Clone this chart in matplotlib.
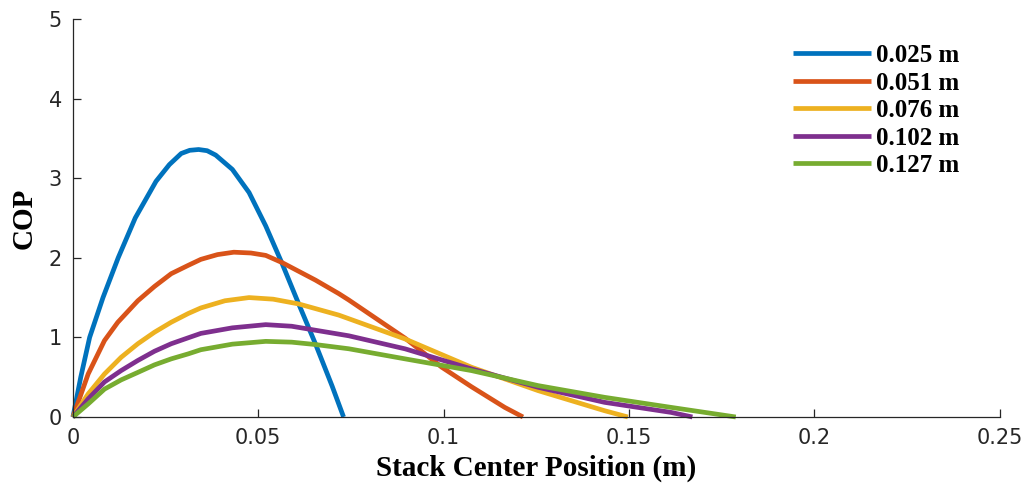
"""
COP versus stack center position for several stack lengths
"""

import matplotlib
matplotlib.use('Agg')
import matplotlib.pyplot as plt

# Stack lengths (legend entries)
lengths = ['0.025 m', '0.051 m', '0.076 m', '0.102 m', '0.127 m']

# COP curves, one pair of arrays per stack length
x_025 = [0, 0.0021, 0.0045, 0.0081, 0.0122, 0.0168, 0.0224, 0.0260, 0.0292,
         0.0315, 0.0339, 0.0362, 0.0385, 0.0430, 0.0475, 0.0520, 0.0564,
         0.0609, 0.0654, 0.0699, 0.0730]
y_025 = [0, 0.50, 1.00, 1.50, 2.00, 2.50, 2.96, 3.17, 3.31,
         3.35, 3.36, 3.345, 3.29, 3.11, 2.82, 2.40, 1.93,
         1.42, 0.92, 0.39, 0]

x_051 = [0, 0.0041, 0.0085, 0.0121, 0.0175, 0.0220, 0.0265, 0.0311, 0.0345,
         0.0390, 0.0434, 0.0480, 0.0520, 0.0564, 0.0654, 0.0717, 0.0744,
         0.0896, 0.0995, 0.1075, 0.1165, 0.1214]
y_051 = [0, 0.54, 0.96, 1.19, 1.46, 1.64, 1.80, 1.905, 1.98,
         2.04, 2.07, 2.06, 2.03, 1.94, 1.72, 1.55, 1.47,
         0.99, 0.625, 0.38, 0.12, 0]

x_076 = [0, 0.0041, 0.0085, 0.0130, 0.0175, 0.0220, 0.0265, 0.0311, 0.0345,
         0.0410, 0.0475, 0.0540, 0.0609, 0.0717, 0.0896, 0.1075, 0.1255,
         0.1434, 0.1497]
y_076 = [0, 0.29, 0.54, 0.75, 0.92, 1.065, 1.19, 1.30, 1.37,
         1.46, 1.50, 1.48, 1.42, 1.28, 0.98, 0.625, 0.331,
         0.079, 0]

x_102 = [0, 0.0041, 0.0085, 0.0130, 0.0175, 0.0220, 0.0265, 0.0311, 0.0345,
         0.0430, 0.0520, 0.0590, 0.0654, 0.0744, 0.0896, 0.1075, 0.1255,
         0.1434, 0.1613, 0.1671]
y_102 = [0, 0.227, 0.44, 0.583, 0.71, 0.826, 0.92, 0.995, 1.05,
         1.12, 1.16, 1.14, 1.09, 1.02, 0.856, 0.604, 0.373,
         0.184, 0.058, 0]

x_127 = [0, 0.0041, 0.0085, 0.0130, 0.0175, 0.0220, 0.0265, 0.0311, 0.0345,
         0.0430, 0.0520, 0.0590, 0.0654, 0.0744, 0.0896, 0.1075, 0.1255,
         0.1434, 0.1613, 0.1788]
y_127 = [0, 0.164, 0.35, 0.466, 0.56, 0.655, 0.73, 0.793, 0.845,
         0.915, 0.95, 0.94, 0.91, 0.857, 0.73, 0.583, 0.394,
         0.247, 0.121, 0]

x_ticks = [0, 0.05, 0.1, 0.15, 0.2, 0.25]
x_tick_labels = ['0', '0.05', '0.1', '0.15', '0.2', '0.25']
y_ticks = [0, 1, 2, 3, 4, 5]

colors = ['#0072BD', '#D95319', '#EDB120', '#7E2F8E', '#77AC30']
axis_color = '#262626'

fig = plt.figure(figsize=(10.32, 4.86), dpi=100)
ax = fig.add_axes([0.0707, 0.142, 0.898, 0.819])

series = [(x_025, y_025), (x_051, y_051), (x_076, y_076),
          (x_102, y_102), (x_127, y_127)]
for (xs, ys), label, color in zip(series, lengths, colors):
    ax.plot(xs, ys, color=color, linewidth=3.4, label=label,
            solid_capstyle='butt', solid_joinstyle='round', clip_on=False)

ax.set_xlim(0, 0.25)
ax.set_ylim(0, 5)
ax.set_xticks(x_ticks)
ax.set_xticklabels(x_tick_labels)
ax.set_yticks(y_ticks)

for side in ['top', 'right']:
    ax.spines[side].set_visible(False)
for side in ['left', 'bottom']:
    ax.spines[side].set_color(axis_color)
    ax.spines[side].set_linewidth(0.9)

ax.tick_params(direction='in', length=6, width=0.9, colors=axis_color,
               labelsize=15, pad=8)
for lbl in ax.get_xticklabels() + ax.get_yticklabels():
    lbl.set_family('DejaVu Sans')

ax.set_xlabel('Stack Center Position (m)', family='Liberation Serif',
              fontweight='bold', fontsize=21, labelpad=5)
ax.set_ylabel('COP', family='Liberation Serif', fontweight='bold',
              fontsize=21, labelpad=8)

leg = ax.legend(loc='upper left', bbox_to_anchor=(0.777, 0.937),
                frameon=False, borderpad=0, borderaxespad=0,
                handlelength=3.1, handletextpad=0.2, labelspacing=0.18,
                prop={'family': 'Liberation Serif', 'weight': 'bold',
                      'size': 18})
for line in leg.get_lines():
    line.set_linewidth(3.4)

fig.savefig('out.png', dpi=100)
